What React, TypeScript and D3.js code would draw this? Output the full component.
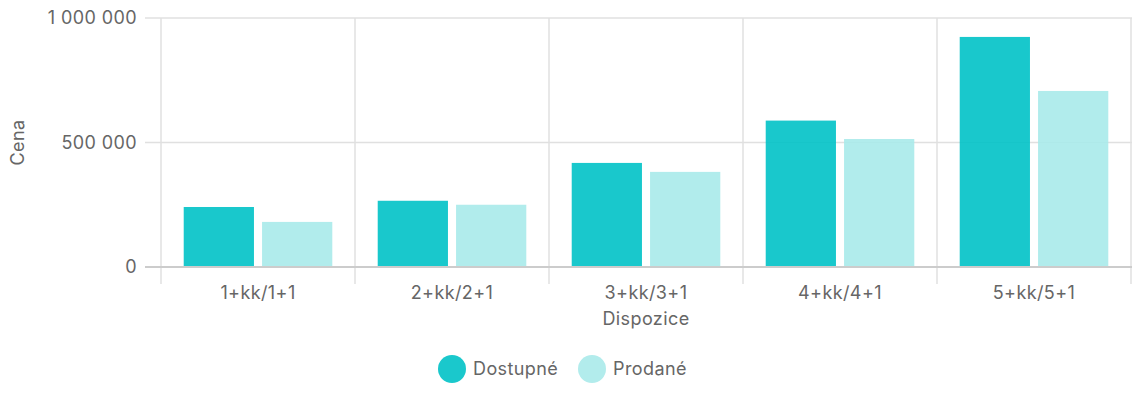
import React from "react";
import * as d3 from "d3";

const categories = ["1+kk/1+1", "2+kk/2+1", "3+kk/3+1", "4+kk/4+1", "5+kk/5+1"];
const seriesNames = ["Dostupné", "Prodané"];
const dostupne = [241000, 266000, 418000, 588000, 924000];
const prodane = [181000, 250000, 382000, 514000, 707000];
const yTicks = [0, 500000, 1000000];
const colors = ["#00C2C6", "#A9EAEA"];
const legendColors = ["#1AC8CC", "#B2ECEC"];

const W = 1132;
const H = 400;
const margin = { left: 161, right: 1, top: 18, bottom: 133 };
const font = "Inter, 'Noto Sans', sans-serif";
const textColor = "#666666";
const fs = 18;
const ls = 0.4;

export default function App() {
  const x0 = d3
    .scaleBand<string>()
    .domain(categories)
    .range([margin.left, W - margin.right])
    .paddingInner(0)
    .paddingOuter(0);
  const x1 = d3
    .scaleBand<string>()
    .domain(seriesNames)
    .range([0, x0.bandwidth()])
    .paddingInner(0.103)
    .paddingOuter(0.29);
  const y = d3.scaleLinear().domain([0, 1000000]).range([H - margin.bottom, margin.top]);
  const fmt = (v: number) => d3.format(",")(v).replace(/,/g, " ");
  const series = [dostupne, prodane];
  const boundaries = categories.map((c) => x0(c)!).concat([x0(categories[categories.length - 1])! + x0.bandwidth()]);

  return (
    <svg width={W} height={H} style={{ position: "absolute", left: 0, top: 0, background: "#fff" }}>
      {yTicks.map((t) => (
        <line key={"h" + t} x1={145} x2={W} y1={y(t)} y2={y(t)} stroke={t === 0 ? "#cccccc" : "#e0e0e0"} strokeWidth={t === 0 ? 2 : 1.5} />
      ))}
      {boundaries.map((b, i) => (
        <line key={"v" + i} x1={b} x2={b} y1={margin.top} y2={284} stroke="#e0e0e0" strokeWidth={1.5} />
      ))}
      {categories.map((c, i) =>
        series.map((s, j) => (
          <rect
            key={c + j}
            x={x0(c)! + x1(seriesNames[j])!}
            y={y(s[i])}
            width={x1.bandwidth()}
            height={y(0) - y(s[i])}
            fill={colors[j]}
            fillOpacity={0.9}
          />
        ))
      )}
      <line x1={145} x2={W} y1={y(0)} y2={y(0)} stroke="#cccccc" strokeWidth={2} />
      {yTicks.map((t) => (
        <text key={"yt" + t} x={137} y={y(t)} dy="0.35em" textAnchor="end" fontFamily={font} fontSize={fs} letterSpacing={ls} fill={textColor}>
          {fmt(t)}
        </text>
      ))}
      {categories.map((c) => (
        <text key={"xl" + c} x={x0(c)! + x0.bandwidth() / 2} y={293} dy="0.35em" textAnchor="middle" fontFamily={font} fontSize={fs} letterSpacing={ls} fill={textColor}>
          {c}
        </text>
      ))}
      <text x={(margin.left + W - margin.right) / 2} y={319} dy="0.35em" textAnchor="middle" fontFamily={font} fontSize={fs} letterSpacing={ls} fill={textColor}>
        Dispozice
      </text>
      <text transform={`translate(18, ${y(500000)}) rotate(-90)`} dy="0.35em" textAnchor="middle" fontFamily={font} fontSize={fs} letterSpacing={ls} fill={textColor}>
        Cena
      </text>
      {seriesNames.map((n, j) => {
        const cx = [452, 592][j];
        return (
          <g key={"lg" + n}>
            <circle cx={cx} cy={369} r={14} fill={legendColors[j]} />
            <text x={cx + 21} y={369} dy="0.35em" fontFamily={font} fontSize={fs} letterSpacing={ls} fill={textColor}>
              {n}
            </text>
          </g>
        );
      })}
    </svg>
  );
}
